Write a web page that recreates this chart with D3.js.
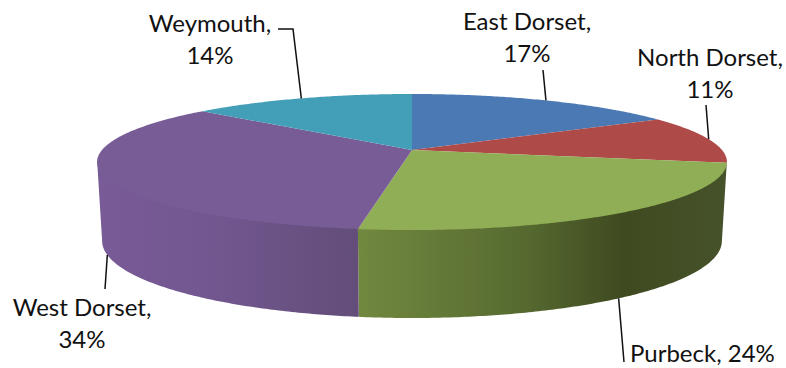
<!DOCTYPE html>
<html>
<head>
<meta charset="utf-8">
<script src="https://cdn.jsdelivr.net/npm/d3@7"></script>
<style>
  body { margin: 0; background: #fff; }
  text { font-family: Lato, "Open Sans", sans-serif; font-size: 24px; fill: #111; }
</style>
</head>
<body>
<figure id="pie" style="margin:0"></figure>
<script>
const districts = ["East Dorset", "North Dorset", "Purbeck", "West Dorset", "Weymouth"];
const shares = [16.6, 11.4, 24.3, 34.1, 13.6];
const topColors = ["#4a79b4", "#ae4a47", "#90ae55", "#775c96", "#439eb8"];

// label placement, same order as districts
const labelX = [527, 710, 630, 82, 210];
const labelY = [30, 66, 362, 316, 32];
const oneLine = [false, false, true, false, false];
const leaderEnds = [[[543, 70]], [[706, 105]], [[624, 362]], [[105, 289]], [[293, 29], [278, 29]]];

const width = 786, height = 368;

// the disc is a circle seen in perspective, so the centre sits above the ellipse middle
const persp = 0.1765;
const topPlane = { cx: 412, cy: 150, b: 310, a: 65.9 };
const bottomPlane = { cx: 412, cy: 227.4, b: 305, a: 74.6 };

function project(theta, plane) {
  const d = 1 + persp * Math.cos(theta);
  return [plane.cx + plane.b * Math.sin(theta) / d, plane.cy - plane.a * Math.cos(theta) / d];
}

function samples(a0, a1) {
  const n = Math.max(2, Math.ceil(Math.abs(a1 - a0) / 0.01));
  return d3.range(n + 1).map(i => a0 + (a1 - a0) * i / n);
}

const line = d3.line();

const svg = d3.select("figure#pie")
  .append("svg")
  .attr("width", width)
  .attr("height", height);

const arcs = d3.pie().sort(null)(shares);

// wall shading
const defs = svg.append("defs");
function wallGradient(id, x1, x2, stops) {
  const g = defs.append("linearGradient")
    .attr("id", id)
    .attr("gradientUnits", "userSpaceOnUse")
    .attr("x1", x1).attr("x2", x2).attr("y1", 0).attr("y2", 0);
  stops.forEach(s => g.append("stop").attr("offset", s[0]).attr("stop-color", s[1]));
}
wallGradient("wall-green", 358, 727, [[0, "#71883f"], [0.45, "#566a30"], [0.72, "#3f4a20"], [1, "#46522a"]]);
wallGradient("wall-purple", 96, 358, [[0, "#795b97"], [0.45, "#72578f"], [1, "#634d79"]]);

// only the part of the rim facing the viewer has a wall
const wallStart = Math.acos(-persp);
const wallEnd = 2 * Math.PI - wallStart;
const walls = [{ i: 2, fill: "url(#wall-green)" }, { i: 3, fill: "url(#wall-purple)" }];

svg.append("g").selectAll("path")
  .data(walls)
  .enter()
  .append("path")
  .attr("fill", d => d.fill)
  .attr("d", d => {
    const a0 = Math.max(arcs[d.i].startAngle, wallStart);
    const a1 = Math.min(arcs[d.i].endAngle, wallEnd);
    // tuck the upper edge under the top face so no pale seam shows
    const upper = samples(a0, a1).map(t => project(t, topPlane)).map(p => [p[0], p[1] - 2]);
    const lower = samples(a1, a0).map(t => project(t, bottomPlane));
    return line(upper.concat(lower)) + "Z";
  });

// top face
svg.append("g").selectAll("path")
  .data(arcs)
  .enter()
  .append("path")
  .attr("fill", (d, i) => topColors[i])
  .attr("d", d => {
    const rim = samples(d.startAngle, d.endAngle).map(t => project(t, topPlane));
    return line([[topPlane.cx, topPlane.cy]].concat(rim)) + "Z";
  });

// leader lines start at the middle of each slice's rim
const visibleFront = [false, false, true, true, false];
svg.append("g").selectAll("path")
  .data(arcs)
  .enter()
  .append("path")
  .attr("fill", "none")
  .attr("stroke", "#111")
  .attr("stroke-width", 1.5)
  .attr("d", (d, i) => {
    const mid = (d.startAngle + d.endAngle) / 2;
    const start = project(mid, visibleFront[i] ? bottomPlane : topPlane);
    return line([start].concat(leaderEnds[i]));
  });

const labels = svg.append("g").selectAll("text")
  .data(arcs)
  .enter()
  .append("text")
  .attr("y", (d, i) => labelY[i])
  .attr("text-anchor", (d, i) => oneLine[i] ? "start" : "middle");

labels.each(function (d, i) {
  const pct = d3.format(".0f")(d.value) + "%";
  const t = d3.select(this);
  if (oneLine[i]) {
    t.append("tspan").attr("x", labelX[i]).text(districts[i] + ", " + pct);
  } else {
    t.append("tspan").attr("x", labelX[i]).text(districts[i] + ",");
    t.append("tspan").attr("x", labelX[i]).attr("dy", 31.5).text(pct);
  }
});
</script>
</body>
</html>
